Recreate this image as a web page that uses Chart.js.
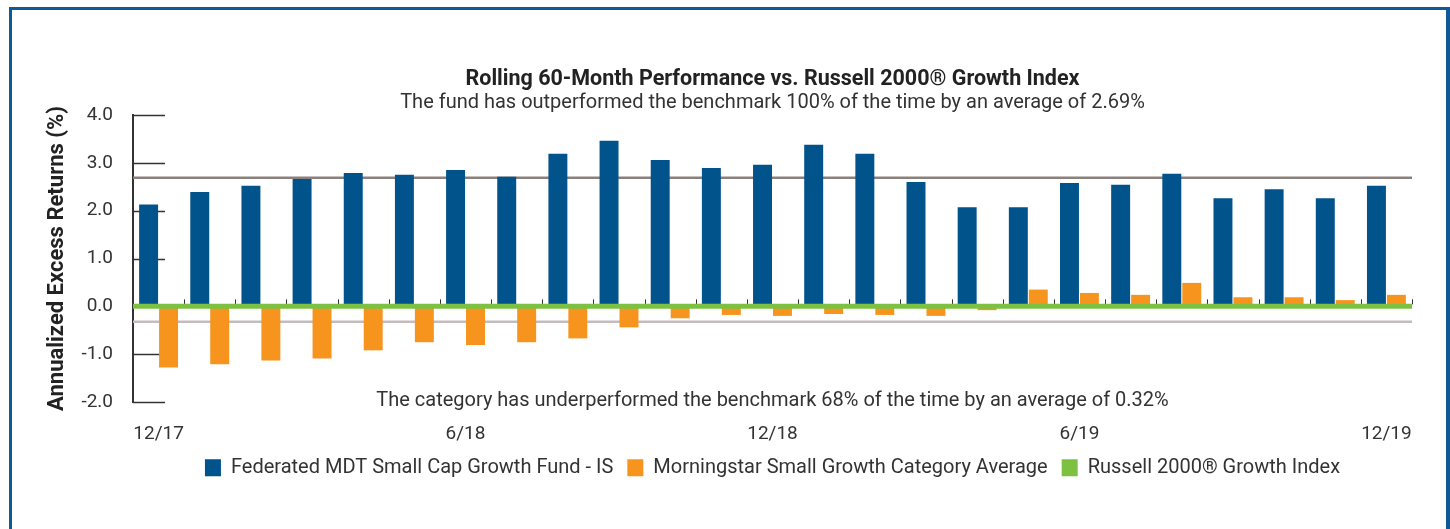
<!DOCTYPE html>
<html>
<head>
<meta charset="utf-8">
<script src="https://cdn.jsdelivr.net/npm/chart.js@4.4.0/dist/chart.umd.min.js"></script>
<style>
  body { margin: 0; background: #fff; }
  #wrap { position: relative; width: 1450px; height: 529px; overflow: hidden; }
  #chart { position: absolute; left: 0; top: 0; }
  #frame {
    position: absolute; left: 9px; top: 7px; width: 1434px; height: 540px;
    border-left: 3px solid #0f5a96; border-top: 3px solid #0f5a96; border-right: 4px solid #0f5a96;
    pointer-events: none;
  }
</style>
</head>
<body>
<div id="wrap">
  <canvas id="chart" width="1450" height="529"></canvas>
  <div id="frame"></div>
</div>
<script>
// month ends, 12/17 .. 12/19
const months = ['12/17','1/18','2/18','3/18','4/18','5/18','6/18','7/18','8/18','9/18','10/18','11/18',
  '12/18','1/19','2/19','3/19','4/19','5/19','6/19','7/19','8/19','9/19','10/19','11/19','12/19'];
const shownTicks = ['12/17','6/18','12/18','6/19','12/19'];

// annualized excess returns vs the index (%)
const fundExcess = [2.13,2.39,2.52,2.66,2.79,2.75,2.85,2.71,3.19,3.46,3.06,2.89,2.96,3.38,3.19,2.60,2.07,2.07,2.58,2.54,2.77,2.26,2.45,2.26,2.52];
const categoryExcess = [-1.28,-1.21,-1.13,-1.09,-0.92,-0.75,-0.81,-0.75,-0.67,-0.44,-0.25,-0.18,-0.20,-0.16,-0.18,-0.20,-0.08,0.35,0.28,0.24,0.49,0.19,0.19,0.13,0.24];
const indexExcess = [0,0,0,0,0,0,0,0,0,0,0,0,0,0,0,0,0,0,0,0,0,0,0,0,0];

const fundAvg = 2.69;
const categoryAvg = -0.32;
const yMin = -2, yMax = 4, yStep = 1;

const seriesNames = ['Federated MDT Small Cap Growth Fund - IS', 'Morningstar Small Growth Category Average', 'Russell 2000\u00AE Growth Index'];
const titleText = 'Rolling 60-Month Performance vs. Russell 2000\u00AE Growth Index';
const subText = 'The fund has outperformed the benchmark 100% of the time by an average of 2.69%';
const noteText = 'The category has underperformed the benchmark 68% of the time by an average of 0.32%';

const BLUE = '#00538b', ORANGE = '#f7941d', GREEN = '#7dc142';
const FONT = 'Roboto';

// average lines, inner y ticks, zero-line ticks, benchmark line, category note
const decor = {
  id: 'decor',
  beforeDatasetsDraw(chart) {
    const ctx = chart.ctx, a = chart.chartArea, y = chart.scales.y, x = chart.scales.x;
    ctx.save();
    ctx.lineWidth = 2.5;
    ctx.strokeStyle = '#8b817c';
    let py = y.getPixelForValue(fundAvg);
    ctx.beginPath(); ctx.moveTo(a.left, py); ctx.lineTo(a.right, py); ctx.stroke();
    ctx.strokeStyle = '#c4bcbc';
    py = y.getPixelForValue(categoryAvg);
    ctx.beginPath(); ctx.moveTo(a.left, py); ctx.lineTo(a.right, py); ctx.stroke();

    ctx.strokeStyle = '#333';
    ctx.lineWidth = 1.5;
    for (let v = yMin; v <= yMax; v += yStep) {
      if (v === 0) continue;
      const ty = Math.round(y.getPixelForValue(v)) + 0.5;
      ctx.beginPath(); ctx.moveTo(a.left, ty); ctx.lineTo(a.left + 32, ty); ctx.stroke();
    }
    ctx.lineWidth = 1;
    const zy = y.getPixelForValue(0);
    for (let i = 1; i <= months.length; i++) {
      const tx = Math.round(x.getPixelForValue(i - 0.5)) + 0.5;
      ctx.beginPath(); ctx.moveTo(tx, zy - 7); ctx.lineTo(tx, zy - 2); ctx.stroke();
    }
    ctx.restore();
  },
  afterDatasetsDraw(chart) {
    // benchmark runs across the full width of each month slot
    const ctx = chart.ctx, y = chart.scales.y, x = chart.scales.x;
    ctx.save();
    ctx.strokeStyle = GREEN;
    ctx.lineWidth = 5;
    ctx.beginPath();
    indexExcess.forEach((v, i) => {
      const py = y.getPixelForValue(v);
      if (i === 0) ctx.moveTo(x.getPixelForValue(i - 0.5), py);
      ctx.lineTo(x.getPixelForValue(i + 0.5), py);
    });
    ctx.stroke();
    ctx.restore();
  },
  afterDraw(chart) {
    const ctx = chart.ctx, a = chart.chartArea;
    ctx.save();
    ctx.font = '20px ' + FONT;
    ctx.fillStyle = '#333';
    ctx.textAlign = 'center';
    ctx.textBaseline = 'middle';
    ctx.fillText(noteText, (a.left + a.right) / 2, a.bottom - 1);
    ctx.restore();
  }
};

new Chart(document.getElementById('chart'), {
  data: {
    labels: months,
    datasets: [
      { type: 'bar', label: seriesNames[0], data: fundExcess, backgroundColor: BLUE,
        categoryPercentage: 0.78, barPercentage: 0.95 },
      { type: 'bar', label: seriesNames[1], data: categoryExcess, backgroundColor: ORANGE,
        categoryPercentage: 0.78, barPercentage: 0.95 },
      { type: 'line', label: seriesNames[2], data: indexExcess, showLine: false, pointRadius: 0,
        borderColor: GREEN, backgroundColor: GREEN }
    ]
  },
  options: {
    responsive: false,
    animation: false,
    layout: { padding: { left: 40, right: 38, top: 0, bottom: 41.2 } },
    plugins: {
      title: { display: true, fullSize: false, text: titleText, color: '#222',
        font: { family: FONT, size: 21.5, weight: 'bold', lineHeight: 1 }, padding: { top: 69, bottom: 0 } },
      subtitle: { display: true, fullSize: false, text: subText, color: '#333',
        font: { family: FONT, size: 20, lineHeight: 1 }, padding: { top: 2, bottom: 2.5 } },
      legend: {
        position: 'bottom',
        fullSize: false,
        labels: {
          color: '#333', font: { family: FONT, size: 20 }, boxWidth: 16, boxHeight: 17, padding: 14,
          generateLabels(chart) {
            return chart.data.datasets.map((d, i) => ({
              text: d.label, fillStyle: d.backgroundColor, strokeStyle: d.backgroundColor,
              lineWidth: 0, datasetIndex: i, hidden: false, fontColor: '#333'
            }));
          }
        }
      },
      tooltip: { enabled: false }
    },
    scales: {
      x: {
        grid: { display: false, drawTicks: false },
        border: { display: false },
        afterFit(s) { s.height -= 22; },
        ticks: {
          autoSkip: false, maxRotation: 0, padding: 20.5, color: '#333',
          font: { family: FONT, size: 19 },
          callback(v, i) { return shownTicks.includes(months[i]) ? months[i] : ''; }
        }
      },
      y: {
        min: yMin, max: yMax,
        afterFit(s) { s.width = 93; },
        grid: { display: false, drawTicks: false },
        border: { display: true, color: '#333', width: 2 },
        ticks: { stepSize: yStep, padding: 20, color: '#333', font: { family: FONT, size: 19 },
          callback: v => v.toFixed(1) },
        title: { display: true, text: 'Annualized Excess Returns (%)', color: '#222',
          font: { family: FONT, size: 22, weight: 'bold' }, padding: { top: 4, bottom: 0 } }
      }
    }
  },
  plugins: [decor]
});
</script>
</body>
</html>
